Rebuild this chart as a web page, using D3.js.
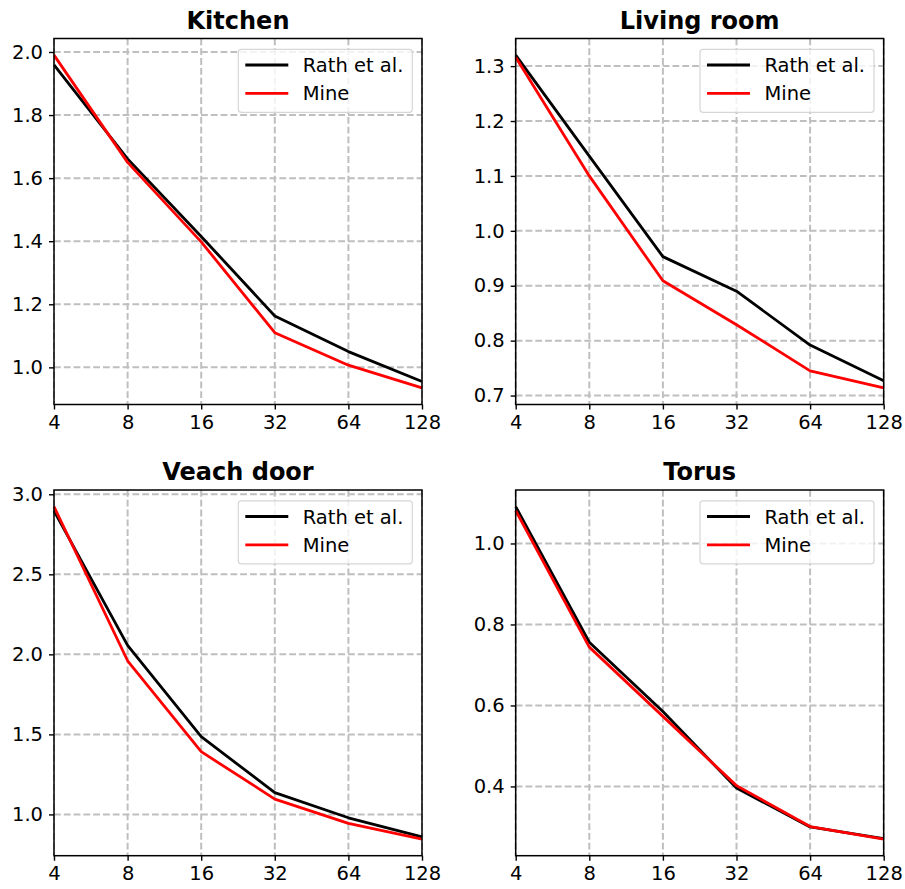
<!DOCTYPE html>
<html>
<head>
<meta charset="utf-8">
<script src="https://cdn.jsdelivr.net/npm/d3@7"></script>
<style>
  html, body { margin: 0; padding: 0; background: #fff; }
  svg { display: block; font-family: "DejaVu Sans", sans-serif; }
</style>
</head>
<body>
<svg id="chart" width="905" height="889"></svg>
<script>
// ---- data ----
const samples = [4, 8, 16, 32, 64, 128];
const xTickLabels = ["4", "8", "16", "32", "64", "128"];
const seriesNames = ["Rath et al.", "Mine"];
const seriesColors = ["#000000", "#ff0000"];

const titles = ["Kitchen", "Living room", "Veach door", "Torus"];

const kitchenRath = [1.959, 1.661, 1.415, 1.163, 1.050, 0.955];
const kitchenMine = [1.990, 1.650, 1.398, 1.110, 1.007, 0.935];

const livingRath = [1.320, 1.136, 0.953, 0.890, 0.792, 0.727];
const livingMine = [1.316, 1.100, 0.909, 0.829, 0.745, 0.714];

const veachRath = [2.896, 2.056, 1.486, 1.136, 0.979, 0.860];
const veachMine = [2.923, 1.960, 1.392, 1.096, 0.944, 0.846];

const torusRath = [1.091, 0.756, 0.585, 0.396, 0.300, 0.271];
const torusMine = [1.081, 0.744, 0.573, 0.402, 0.301, 0.270];

const kitchenYTicks = [1.0, 1.2, 1.4, 1.6, 1.8, 2.0];
const livingYTicks = [0.7, 0.8, 0.9, 1.0, 1.1, 1.2, 1.3];
const veachYTicks = [1.0, 1.5, 2.0, 2.5, 3.0];
const torusYTicks = [0.4, 0.6, 0.8, 1.0];

const panels = [
  { title: titles[0], series: [kitchenRath, kitchenMine], yTicks: kitchenYTicks, fmt: ".1f" },
  { title: titles[1], series: [livingRath, livingMine], yTicks: livingYTicks, fmt: ".1f" },
  { title: titles[2], series: [veachRath, veachMine], yTicks: veachYTicks, fmt: ".1f" },
  { title: titles[3], series: [torusRath, torusMine], yTicks: torusYTicks, fmt: ".1f" }
];

// ---- layout ----
const colX = [[54, 422], [515.7, 883.7]];
const rowY = [[38.5, 404.5], [490, 855.7]];
const tickFont = "19.5px";

const svg = d3.select("#chart");

panels.forEach((p, i) => {
  const [x0, x1] = colX[i % 2];
  const [y0, y1] = rowY[Math.floor(i / 2)];

  const all = p.series.flat();
  const mn = d3.min(all), mx = d3.max(all);
  const pad = (mx - mn) * 0.05;

  const x = d3.scaleLog().base(2).domain([samples[0], samples[samples.length - 1]]).range([x0, x1]);
  const y = d3.scaleLinear().domain([mn - pad, mx + pad]).range([y1, y0]);

  const g = svg.append("g");

  // grid
  const gridColor = "#bfbfbf";
  g.append("g").selectAll("line").data(samples).join("line")
    .attr("x1", d => x(d)).attr("x2", d => x(d))
    .attr("y1", y0).attr("y2", y1)
    .attr("stroke", gridColor).attr("stroke-width", 2)
    .attr("stroke-dasharray", "6.8,3");
  g.append("g").selectAll("line").data(p.yTicks).join("line")
    .attr("x1", x0).attr("x2", x1)
    .attr("y1", d => y(d)).attr("y2", d => y(d))
    .attr("stroke", gridColor).attr("stroke-width", 2)
    .attr("stroke-dasharray", "6.8,3");

  // axes
  const xAxis = d3.axisBottom(x).tickValues(samples)
    .tickFormat((d, k) => xTickLabels[k]).tickSizeOuter(0).tickSize(5).tickPadding(5.5);
  const yAxis = d3.axisLeft(y).tickValues(p.yTicks)
    .tickFormat(d3.format(p.fmt)).tickSizeOuter(0).tickSize(5).tickPadding(6);

  const gx = g.append("g").attr("transform", `translate(0,${y1})`).call(xAxis);
  const gy = g.append("g").attr("transform", `translate(${x0},0)`).call(yAxis);
  [gx, gy].forEach(a => {
    a.select(".domain").remove();
    a.selectAll(".tick line").attr("stroke", "#000").attr("stroke-width", 1.4);
    a.selectAll(".tick text").attr("fill", "#000")
      .style("font-family", "'DejaVu Sans', sans-serif").style("font-size", tickFont);
  });

  // lines
  const line = d3.line().x((d, k) => x(samples[k])).y(d => y(d));
  p.series.forEach((s, k) => {
    g.append("path").datum(s)
      .attr("d", line)
      .attr("fill", "none")
      .attr("stroke", seriesColors[k])
      .attr("stroke-width", 2.8)
      .attr("stroke-linejoin", "round")
      .attr("stroke-linecap", "butt");
  });

  // spines
  g.append("rect")
    .attr("x", x0).attr("y", y0).attr("width", x1 - x0).attr("height", y1 - y0)
    .attr("fill", "none").attr("stroke", "#000").attr("stroke-width", 1.5);

  // title
  g.append("text")
    .attr("x", (x0 + x1) / 2).attr("y", y0 - 10)
    .attr("text-anchor", "middle")
    .style("font-size", "24px").style("font-weight", "bold")
    .attr("fill", "#000")
    .text(p.title);

  // legend
  const lx = x1 - 183.7, ly = y0 + 10.8, lw = 174, lh = 63;
  const lg = g.append("g");
  lg.append("rect")
    .attr("x", lx).attr("y", ly).attr("width", lw).attr("height", lh)
    .attr("rx", 3).attr("ry", 3)
    .attr("fill", "#fff").attr("fill-opacity", 0.8)
    .attr("stroke", "#d6d6d6").attr("stroke-width", 1.2);
  seriesNames.forEach((name, k) => {
    const cy = ly + 15.7 + k * 28.3;
    lg.append("line")
      .attr("x1", lx + 7).attr("x2", lx + 50)
      .attr("y1", cy).attr("y2", cy)
      .attr("stroke", seriesColors[k]).attr("stroke-width", 2.8);
    lg.append("text")
      .attr("x", lx + 64.4).attr("y", cy + 7)
      .style("font-size", tickFont)
      .attr("fill", "#000")
      .text(name);
  });
});
</script>
</body>
</html>
